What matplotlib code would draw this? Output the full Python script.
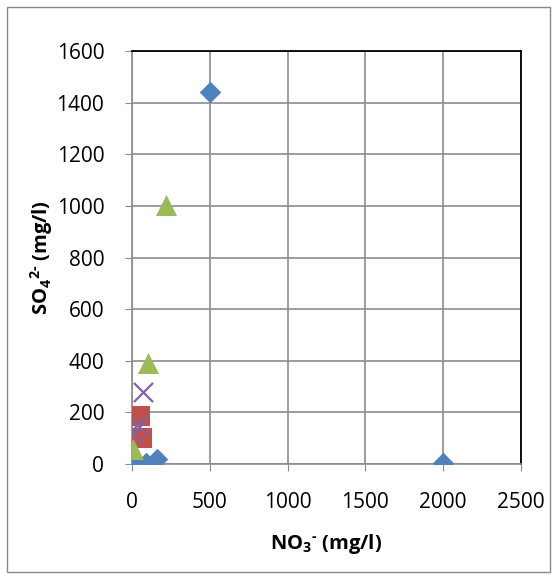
import matplotlib
matplotlib.use("Agg")
import matplotlib.pyplot as plt
from matplotlib.patches import Rectangle

plt.rcParams['font.family'] = ['Open Sans', 'DejaVu Sans']
plt.rcParams['mathtext.fontset'] = 'custom'
plt.rcParams['mathtext.rm'] = 'Open Sans:bold'
plt.rcParams['mathtext.default'] = 'rm'

blue_x = [500, 2000, 20, 90, 160]
blue_y = [1440, 5, 8, 5, 18]
red_x = [50, 65]
red_y = [185, 100]
green_x = [220, 100, 8]
green_y = [1005, 390, 60]
purple_x = [70, 30, 5]
purple_y = [280, 150, 120]

x_ticks = [0, 500, 1000, 1500, 2000, 2500]
y_ticks = [0, 200, 400, 600, 800, 1000, 1200, 1400, 1600]

W, H = 557, 579
fig = plt.figure(figsize=(W/100, H/100), dpi=100)
fig.patches.append(Rectangle((7/W, 7/H), 543/W, 565/H, transform=fig.transFigure,
                             fill=False, edgecolor='#888888', linewidth=1.0))
ax = fig.add_axes([132/W, 1-464/H, (521-132)/W, (464-51)/H])

ax.scatter(blue_x, blue_y, marker='D', s=120, color='#4F81BD', zorder=3, linewidths=0)
ax.scatter(red_x, red_y, marker='s', s=190, color='#C0504D', zorder=3, linewidths=0)
ax.scatter(green_x, green_y, marker='^', s=230, color='#9BBB59', zorder=3, linewidths=0)
ax.scatter(purple_x, purple_y, marker='x', s=190, color='#8064A2', zorder=4, linewidths=1.6)

ax.set_xlim(0, 2500)
ax.set_ylim(0, 1600)
ax.set_xticks(x_ticks)
ax.set_yticks(y_ticks)
ax.grid(True, color='#8C8C8C', linewidth=1.2)
ax.set_axisbelow(True)
for s in ['top', 'right']:
    ax.spines[s].set_color('black')
    ax.spines[s].set_linewidth(1.3)
for s in ['left', 'bottom']:
    ax.spines[s].set_color('#8C8C8C')
    ax.spines[s].set_linewidth(1.2)
ax.tick_params(direction='out', length=5, color='#8C8C8C', labelsize=15)
ax.tick_params(axis='x', pad=15)
ax.tick_params(axis='y', pad=15)
ax.set_xlabel(r'NO$_3$$^{\text{-}}$ (mg/l)', fontsize=14.5, fontweight='bold', labelpad=14)
ax.set_ylabel(r'SO$_4$$^{2\text{-}}$ (mg/l)', fontsize=14.5, fontweight='bold', labelpad=1)

fig.savefig('out.png', dpi=100)
